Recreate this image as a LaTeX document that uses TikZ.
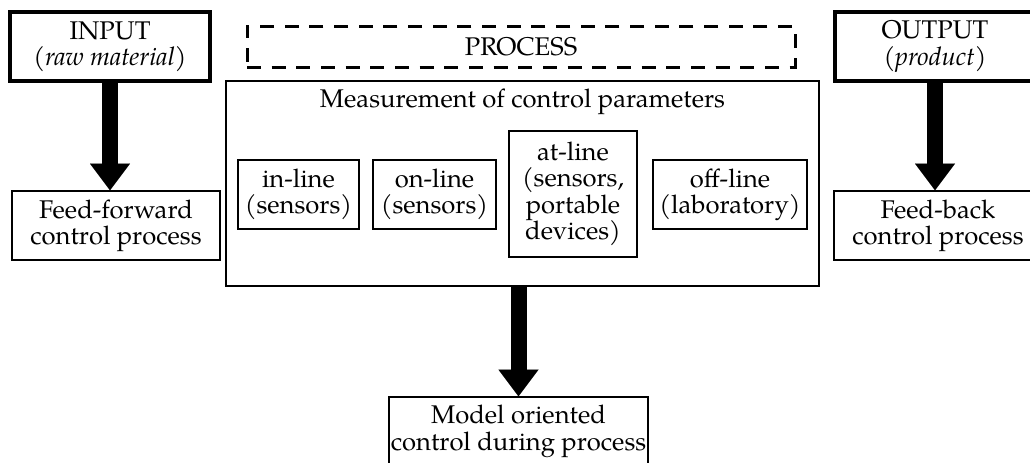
\documentclass[tikz,border=0pt]{standalone}
\usepackage{fontspec}
\setmainfont{TeX Gyre Pagella}
\usetikzlibrary{arrows.meta}
\begin{document}
\begin{tikzpicture}[x=0.75pt,y=-0.75pt,
  every node/.style={font=\fontsize{19.2}{19.8}\selectfont, align=center, inner sep=0pt},
  box/.style={draw, line width=1.1pt, minimum width=#1*0.75pt, minimum height=51.75pt},
  iobox/.style={draw, line width=2.6pt, minimum width=#1*0.75pt, minimum height=51.75pt},
  dashbox/.style={draw, line width=2.25pt, dash pattern=on 10.5pt off 8pt},
  flow/.style={line width=12pt, -{Triangle[width=30pt,length=20pt,line width=0.01pt]}}
]
\clip (0,0) rectangle (1030,462);

% inputs and outputs of the process
\node[iobox=200] (input) at (110,46.5) {INPUT\\\textit{(raw material)}};
\node[iobox=200] (output) at (935,46.5) {OUTPUT\\\textit{(product)}};

% control schemes
\node[box=208] (ff) at (116,225.5) {Feed-forward\\control process};
\node[box=208] (fb) at (938,225.5) {Feed-back\\control process};
\node[box=259] (model) at (518.5,431.5) {Model oriented\\control during process};

% process block
\node[dashbox, minimum width=411pt, minimum height=30.75pt] (proc) at (521,46.5) {PROCESS};
\node[draw, line width=1.1pt, minimum width=444.75pt, minimum height=153.75pt] (main) at (522.5,183.5) {};
\node (title) at (522.5,102) {Measurement of control parameters};

% measurement modes
\node[box=121] (inline) at (298.5,194.5) {in-line\\(sensors)};
\node[box=123] (online) at (434.5,194.5) {on-line\\(sensors)};
\node[box=128, minimum height=94.5pt] (atline) at (573,194) {at-line\\(sensors,\\portable\\devices)};
\node[box=154] (offline) at (730,194.5) {off-line\\(laboratory)};

% flows
\draw[flow] (input.south) -- (input.south |- ff.north);
\draw[flow] (output.south) -- (output.south |- fb.north);
\draw[flow] (main.south -| model.north) -- (model.north);
\end{tikzpicture}
\end{document}
